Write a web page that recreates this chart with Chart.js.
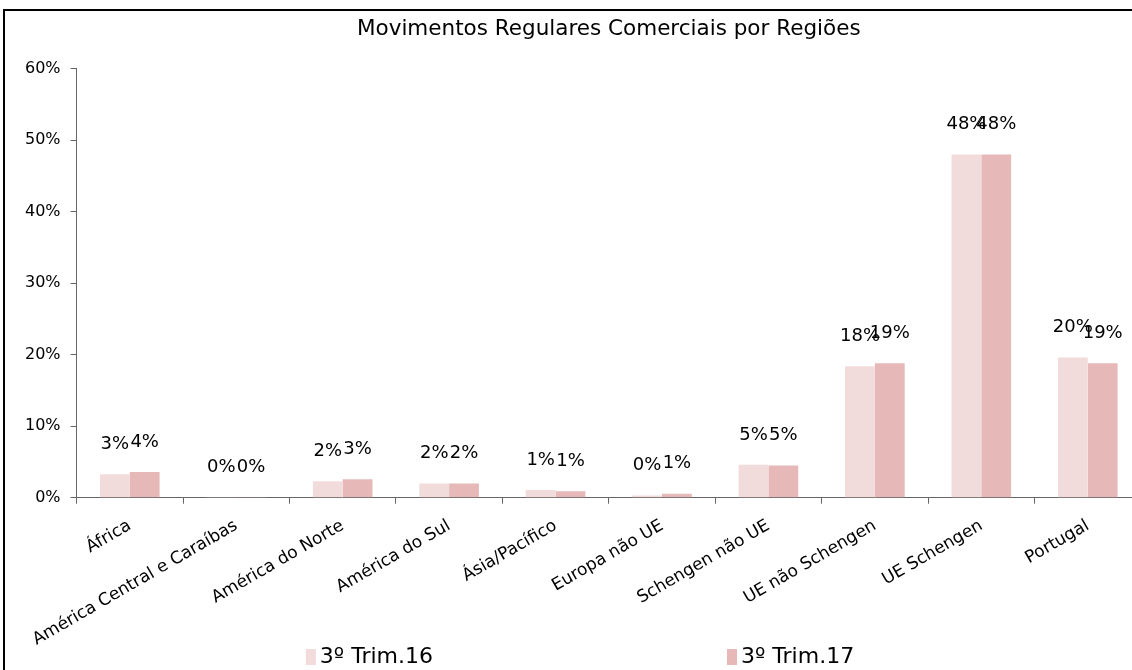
<!DOCTYPE html>
<html>
<head>
<meta charset="utf-8">
<script src="https://cdn.jsdelivr.net/npm/chart.js@4"></script>
<style>
  html, body { margin: 0; padding: 0; background: #fff; overflow: hidden; }
  .graph-box { position: absolute; left: 0; top: 0; width: 1160px; height: 670px; }
  .frame { position: absolute; left: 3px; top: 9px; width: 1300px; height: 800px; border: 2px solid #000; }
</style>
</head>
<body>
<div class="graph-box"><canvas id="regioesChart"></canvas></div>
<div class="frame"></div>
<script>
const categorias = ['África', 'América Central e Caraíbas', 'América do Norte', 'América do Sul', 'Ásia/Pacífico',
    'Europa não UE', 'Schengen não UE', 'UE não Schengen', 'UE Schengen', 'Portugal'];
const trim16 = [3.3, 0.03, 2.3, 2.0, 1.1, 0.3, 4.6, 18.4, 48.0, 19.6];
const trim17 = [3.6, 0.1, 2.6, 2.0, 0.9, 0.55, 4.5, 18.8, 48.0, 18.8];
const yTicks = [0, 10, 20, 30, 40, 50, 60];

const fonte = '"DejaVu Sans", sans-serif';

// rótulos de valor por cima das barras
const valorLabels = {
    id: 'valorLabels',
    afterDatasetsDraw(chart) {
        const ctx = chart.ctx;
        ctx.save();
        ctx.font = '18px ' + fonte;
        ctx.fillStyle = '#000';
        ctx.textAlign = 'center';
        ctx.textBaseline = 'middle';
        chart.data.datasets.forEach((ds, i) => {
            chart.getDatasetMeta(i).data.forEach((bar, j) => {
                ctx.fillText(Math.round(ds.data[j]) + '%', bar.x, bar.y - 30);
            });
        });
        ctx.restore();
    }
};

// legenda em baixo, com os dois itens bem afastados
const legendaBaixo = {
    id: 'legendaBaixo',
    afterDraw(chart) {
        const ctx = chart.ctx;
        const gap = 294;
        ctx.save();
        ctx.font = '22px ' + fonte;
        ctx.textBaseline = 'middle';
        const items = chart.data.datasets.map(ds => ({
            label: ds.label, color: ds.backgroundColor, w: 10 + 4 + ctx.measureText(ds.label).width
        }));
        const total = items.reduce((s, it) => s + it.w, 0) + gap * (items.length - 1);
        let x = chart.width / 2 - total / 2;
        const y = chart.height - 13;
        items.forEach(it => {
            ctx.fillStyle = it.color;
            ctx.fillRect(x, y - 8, 10, 16);
            ctx.fillStyle = '#000';
            ctx.fillText(it.label, x + 14, y);
            x += it.w + gap;
        });
        ctx.restore();
    }
};

const ctx = document.getElementById('regioesChart').getContext('2d');
new Chart(ctx, {
    type: 'bar',
    data: {
        labels: categorias,
        datasets: [{
            label: '3º Trim.16',
            data: trim16,
            backgroundColor: '#F2DCDB',
            categoryPercentage: 0.56,
            barPercentage: 1.0
        }, {
            label: '3º Trim.17',
            data: trim17,
            backgroundColor: '#E6B9B8',
            categoryPercentage: 0.56,
            barPercentage: 1.0
        }]
    },
    options: {
        responsive: true,
        maintainAspectRatio: false,
        animation: false,
        layout: { padding: { left: 15, right: 19, top: 0, bottom: 8 } },
        plugins: {
            legend: { display: false },
            tooltip: { enabled: false },
            title: {
                display: true,
                text: 'Movimentos Regulares Comerciais por Regiões',
                color: '#000',
                font: { family: fonte, size: 21.5, weight: 'normal' },
                fullSize: false,
                padding: { top: 17, bottom: 26 }
            }
        },
        scales: {
            x: {
                grid: { display: true, drawOnChartArea: false, tickLength: 6, color: '#666', offset: true },
                border: { color: '#666', width: 1 },
                ticks: {
                    color: '#000',
                    minRotation: 30,
                    maxRotation: 30,
                    autoSkip: false,
                    padding: 12,
                    font: { family: fonte, size: 17 }
                }
            },
            y: {
                min: 0,
                max: 60,
                afterBuildTicks(axis) { axis.ticks = yTicks.map(v => ({ value: v })); },
                grid: { display: true, drawOnChartArea: false, tickLength: 6, color: '#666' },
                border: { color: '#666', width: 1 },
                ticks: {
                    color: '#000',
                    padding: 10,
                    font: { family: fonte, size: 16 },
                    callback: v => v + '%'
                }
            }
        }
    },
    plugins: [valorLabels, legendaBaixo]
});
</script>
</body>
</html>
